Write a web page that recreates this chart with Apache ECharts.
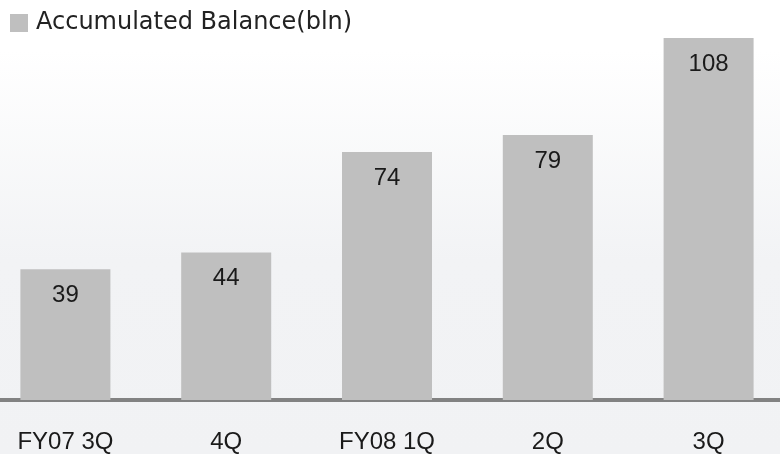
<!DOCTYPE html>
<html>
<head>
<meta charset="utf-8">
<script src="https://cdn.jsdelivr.net/npm/echarts@6/dist/echarts.min.js"></script>
<style>
  html, body { margin: 0; padding: 0; overflow: hidden; }
  body {
    width: 780px; height: 454px; position: relative;
    background: linear-gradient(to bottom, #ffffff 0px, #ffffff 50px, #f2f3f5 260px, #f1f2f4 454px);
  }
  /* the plot is a bit wider than the page so the outer bands run past both edges */
  #chart { position: absolute; left: -15px; top: 0; width: 804px; height: 454px; }
</style>
</head>
<body>
<div id="chart"></div>
<script>
// Quarterly accumulated balance, in billions
const quarters = ['FY07 3Q', '4Q', 'FY08 1Q', '2Q', '3Q'];
const balance = [39, 44, 74, 79, 108];
const seriesName = 'Accumulated Balance(bln)';

const chart = echarts.init(document.getElementById('chart'), null, { renderer: 'canvas' });
chart.setOption({
  animation: false,
  backgroundColor: 'transparent',
  legend: {
    left: 20, top: 6,
    icon: 'rect', itemWidth: 18, itemHeight: 18,
    data: [seriesName],
    textStyle: {
      fontFamily: 'DejaVu Sans', fontSize: 24, color: '#222',
      padding: [0, 0, 0, 3]
    }
  },
  grid: { left: 0, right: 0, top: 0, bottom: 52 },
  xAxis: {
    type: 'category',
    data: quarters,
    axisLine: { lineStyle: { color: '#828282', width: 4 } },
    axisTick: { show: false },
    axisLabel: {
      fontFamily: 'Liberation Sans', fontSize: 24, color: '#1a1a1a', margin: 30
    }
  },
  yAxis: {
    type: 'value', min: 0, max: 119.3,
    show: false, splitLine: { show: false }
  },
  series: [{
    name: seriesName,
    type: 'bar',
    data: balance,
    barWidth: 90,
    itemStyle: { color: '#bfbfbf' },
    label: {
      show: true, position: 'insideTop', distance: 14,
      fontFamily: 'Liberation Sans', fontSize: 24, color: '#1a1a1a'
    }
  }]
});
</script>
</body>
</html>
